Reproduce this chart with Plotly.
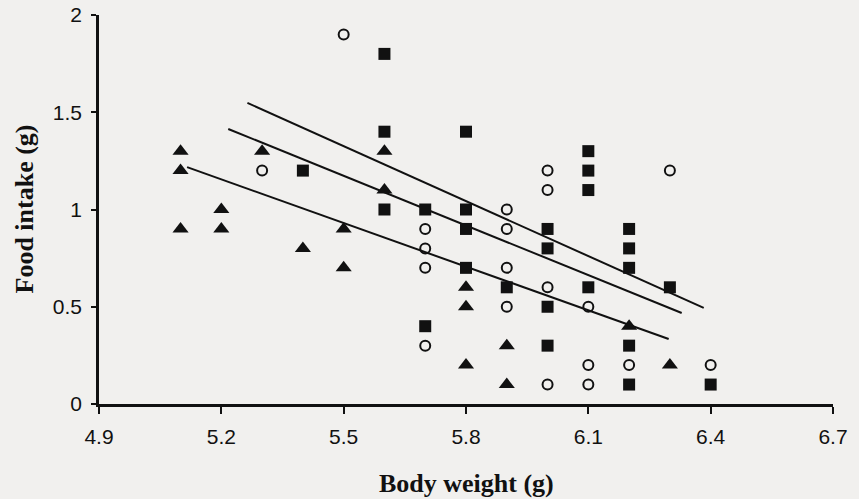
import plotly.graph_objects as go

# Triangles
tri_x = [5.1, 5.1, 5.1, 5.2, 5.2, 5.3, 5.4, 5.5, 5.5, 5.6, 5.6, 5.8, 5.8, 5.8, 5.9, 5.9, 6.2, 6.3]
tri_y = [1.3, 1.2, 0.9, 1.0, 0.9, 1.3, 0.8, 0.9, 0.7, 1.3, 1.1, 0.6, 0.5, 0.2, 0.3, 0.1, 0.4, 0.2]

# Open circles
cir_x = [5.3, 5.5, 5.7, 5.7, 5.7, 5.7, 5.9, 5.9, 5.9, 5.9, 6.0, 6.0, 6.0, 6.0, 6.1, 6.1, 6.1, 6.2, 6.3, 6.4]
cir_y = [1.2, 1.9, 0.9, 0.8, 0.7, 0.3, 1.0, 0.9, 0.7, 0.5, 1.2, 1.1, 0.6, 0.1, 0.5, 0.2, 0.1, 0.2, 1.2, 0.2]

# Filled squares
sq_x = [5.4, 5.6, 5.6, 5.6, 5.7, 5.7, 5.8, 5.8, 5.8, 5.8, 5.9, 6.0, 6.0, 6.0, 6.0,
        6.1, 6.1, 6.1, 6.1, 6.2, 6.2, 6.2, 6.2, 6.2, 6.3, 6.4]
sq_y = [1.2, 1.8, 1.4, 1.0, 1.0, 0.4, 1.4, 1.0, 0.9, 0.7, 0.6, 0.9, 0.8, 0.5, 0.3,
        1.3, 1.2, 1.1, 0.6, 0.9, 0.8, 0.7, 0.3, 0.1, 0.6, 0.1]

# Regression lines (endpoints)
line_top_x = [5.264, 6.383]
line_top_y = [1.548, 0.494]
line_mid_x = [5.217, 6.329]
line_mid_y = [1.414, 0.468]
line_bot_x = [5.116, 6.297]
line_bot_y = [1.218, 0.334]

x_ticks = [4.9, 5.2, 5.5, 5.8, 6.1, 6.4, 6.7]
y_ticks = [0, 0.5, 1, 1.5, 2]
y_tick_text = ["0", "0.5", "1", "1.5", "2"]

ink = "#111111"
fig = go.Figure()
for lx, ly in [(line_top_x, line_top_y), (line_mid_x, line_mid_y), (line_bot_x, line_bot_y)]:
    fig.add_trace(go.Scatter(x=lx, y=ly, mode="lines",
                             line=dict(color=ink, width=2), showlegend=False,
                             hoverinfo="skip"))

fig.add_trace(go.Scatter(x=tri_x, y=tri_y, mode="markers",
                         marker=dict(symbol="triangle-up", size=14, color=ink,
                                     line=dict(width=0)), showlegend=False))
fig.add_trace(go.Scatter(x=cir_x, y=cir_y, mode="markers",
                         marker=dict(symbol="circle-open", size=10, color=ink,
                                     line=dict(width=2)), showlegend=False))
fig.add_trace(go.Scatter(x=sq_x, y=sq_y, mode="markers",
                         marker=dict(symbol="square", size=12, color=ink,
                                     line=dict(width=0)), showlegend=False))

bg = "#f1f0ee"
title_font = dict(family="Liberation Serif, Times New Roman", size=26, color=ink, weight="bold")
fig.update_layout(
    width=859, height=499,
    paper_bgcolor=bg, plot_bgcolor=bg,
    margin=dict(l=99, r=26, t=15, b=95),
    font=dict(family="Liberation Sans, Arial", size=21, color=ink),
    xaxis=dict(range=[4.9, 6.7], tickvals=x_ticks, ticktext=[f"{v:.1f}" for v in x_ticks],
               showgrid=False, zeroline=False, showline=True, linecolor=ink, linewidth=3,
               ticks="outside", ticklen=7, tickwidth=2, tickcolor=ink,
               ticklabelstandoff=5, automargin=False),
    yaxis=dict(range=[0, 2], tickvals=y_ticks, ticktext=y_tick_text,
               showgrid=False, zeroline=False, showline=True, linecolor=ink, linewidth=2.5,
               ticks="outside", ticklen=5, tickwidth=2, tickcolor=ink,
               ticklabelstandoff=5, automargin=False),
    annotations=[
        dict(text="Body weight (g)", xref="paper", yref="paper", x=0.5, y=0,
             xanchor="center", yanchor="middle", yshift=-79, showarrow=False, font=title_font),
        dict(text="Food intake (g)", xref="paper", yref="paper", x=0, y=0.5,
             xanchor="center", yanchor="middle", xshift=-75, textangle=-90,
             showarrow=False, font=title_font),
    ],
)

fig.write_html("out.html", config={"displayModeBar": False},
               post_script="document.body.style.margin='0';document.body.style.overflow='hidden';")
